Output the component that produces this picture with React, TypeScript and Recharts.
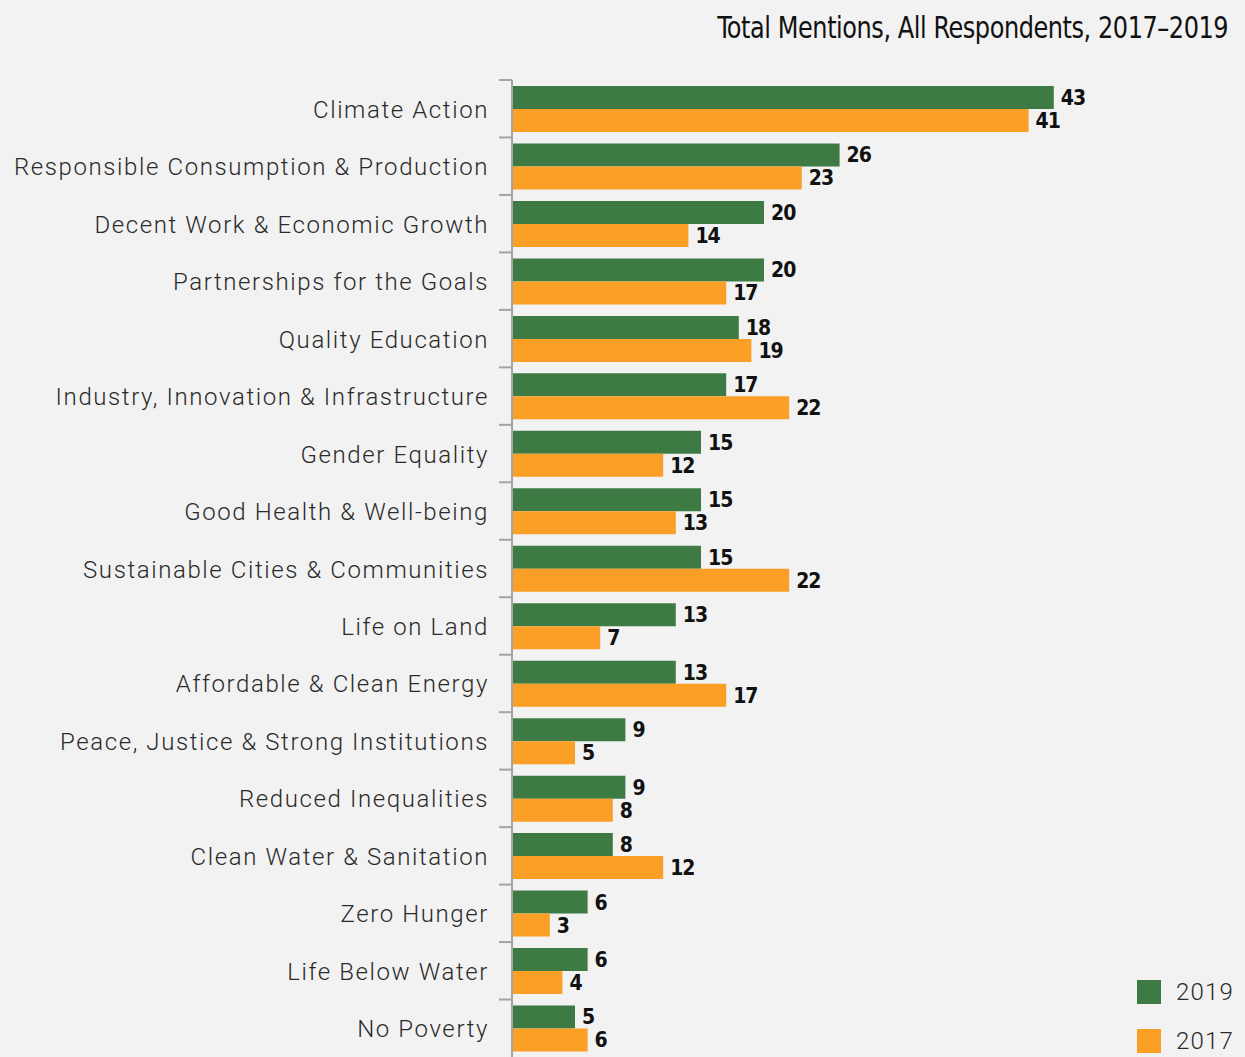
import { BarChart, Bar, XAxis, YAxis, LabelList } from "recharts";

const categories = [
  "Climate Action",
  "Responsible Consumption & Production",
  "Decent Work & Economic Growth",
  "Partnerships for the Goals",
  "Quality Education",
  "Industry, Innovation & Infrastructure",
  "Gender Equality",
  "Good Health & Well-being",
  "Sustainable Cities & Communities",
  "Life on Land",
  "Affordable & Clean Energy",
  "Peace, Justice & Strong Institutions",
  "Reduced Inequalities",
  "Clean Water & Sanitation",
  "Zero Hunger",
  "Life Below Water",
  "No Poverty",
];
const mentions2019 = [43, 26, 20, 20, 18, 17, 15, 15, 15, 13, 13, 9, 9, 8, 6, 6, 5];
const mentions2017 = [41, 23, 14, 17, 19, 22, 12, 13, 22, 7, 17, 5, 8, 12, 3, 4, 6];

const GREEN = "#3e7b44";
const ORANGE = "#fb9f27";
const BG = "#f2f2f2";
const AXIS = "#a3a3a3";

const W = 1245;
const H = 1057;
const TOP = 80;
const BAND = (H - TOP) / categories.length;
const TICK_SIZE = 13;
const TICK_MARGIN = 12;

const data = categories.map((name, i) => ({
  name,
  y2019: mentions2019[i],
  y2017: mentions2017[i],
}));

function CategoryTick(props: any) {
  const { x, y, payload } = props;
  const axisX = x + TICK_MARGIN + TICK_SIZE;
  const top = y - BAND / 2;
  return (
    <g>
      <line x1={axisX - TICK_SIZE} x2={axisX} y1={top} y2={top} stroke={AXIS} strokeWidth={2} />
      <text
        x={x + 2}
        y={y + 1}
        textAnchor="end"
        dominantBaseline="central"
        fontFamily="Roboto, 'Open Sans', sans-serif"
        fontWeight={300}
        fontSize={24}
        letterSpacing={1.6}
        fill="#2a2a2a"
      >
        {payload.value}
      </text>
    </g>
  );
}

const valueLabelStyle = {
  fontFamily: "'Liberation Sans Narrow', 'DejaVu Sans Condensed', sans-serif",
  fontWeight: 700,
  fontSize: 21,
  letterSpacing: -1,
  fill: "#111",
};

export default function App() {
  return (
    <div
      style={{
        position: "absolute",
        left: 0,
        top: 0,
        width: W,
        height: H,
        background: BG,
        overflow: "hidden",
      }}
    >
      <div
        style={{
          position: "absolute",
          right: 17,
          top: 9,
          fontFamily: "'Liberation Sans Narrow', 'DejaVu Sans Condensed', sans-serif",
          fontSize: 31,
          fontWeight: 500,
          color: "#111",
          letterSpacing: -0.5,
          whiteSpace: "nowrap",
          transform: "scaleX(0.86)",
          transformOrigin: "right center",
        }}
      >
        Total Mentions, All Respondents, 2017–2019
      </div>

      <BarChart
        width={W}
        height={H}
        data={data}
        layout="vertical"
        margin={{ top: TOP, right: 103, bottom: 0, left: 0 }}
        barGap={0}
        style={{ position: "absolute", left: 0, top: 0 }}
      >
        <XAxis type="number" domain={[0, 50]} hide />
        <YAxis
          type="category"
          dataKey="name"
          width={512}
          interval={0}
          tickSize={TICK_SIZE}
          tickMargin={TICK_MARGIN}
          tickLine={{ stroke: "transparent" }}
          axisLine={{ stroke: AXIS, strokeWidth: 2 }}
          tick={<CategoryTick />}
        />
        <Bar dataKey="y2019" fill={GREEN} barSize={23} isAnimationActive={false}>
          <LabelList dataKey="y2019" position="right" offset={7} style={valueLabelStyle} />
        </Bar>
        <Bar dataKey="y2017" fill={ORANGE} barSize={23} isAnimationActive={false}>
          <LabelList dataKey="y2017" position="right" offset={7} style={valueLabelStyle} />
        </Bar>
      </BarChart>

      {[
        { label: "2019", color: GREEN, top: 980 },
        { label: "2017", color: ORANGE, top: 1029 },
      ].map((item) => (
        <div
          key={item.label}
          style={{
            position: "absolute",
            left: 1137,
            top: item.top,
            display: "flex",
            alignItems: "center",
            fontFamily: "Roboto, 'Open Sans', sans-serif",
            fontWeight: 300,
            fontSize: 24,
            letterSpacing: 1.2,
            color: "#2a2a2a",
          }}
        >
          <span style={{ width: 24, height: 24, background: item.color, display: "inline-block" }} />
          <span style={{ marginLeft: 15, lineHeight: "24px" }}>{item.label}</span>
        </div>
      ))}
    </div>
  );
}
